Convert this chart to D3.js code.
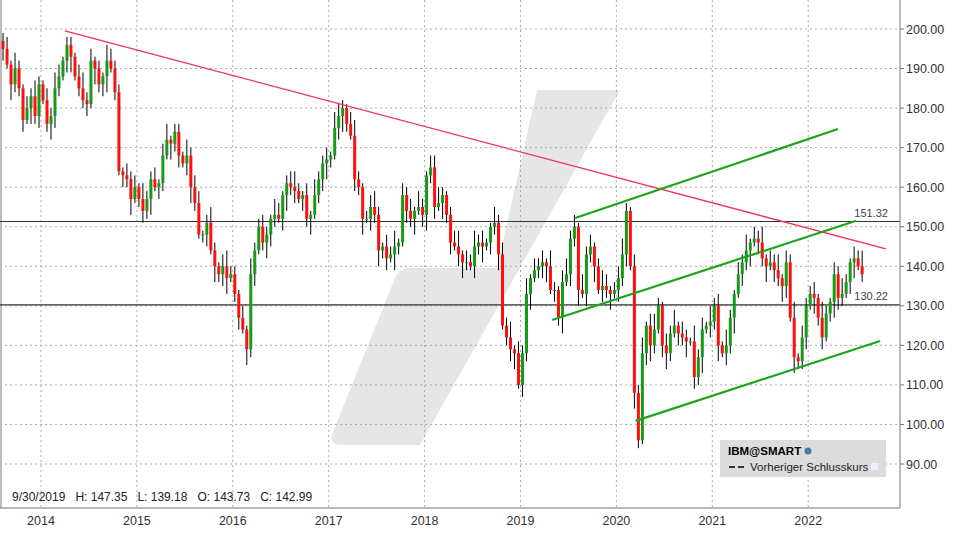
<!DOCTYPE html><html><head><meta charset="utf-8">
<script src="https://cdn.jsdelivr.net/npm/d3@7"></script>
<style>body{margin:0;background:#fff}text{font-family:"Liberation Sans",Arial,sans-serif}</style></head><body>
<svg id="c" width="953" height="536"></svg>
<script>
// half-month closes from Aug 2013
const closes=[195,191,186,190,185,177,180,183,178,186,
182,176,178,185,188,192,196,193,188,185,182,181,192,190,186,188,192,190,184,164,163,162,157,160,
157,154,157,162,160,161,168,172,171,174,168,166,168,160,156,148,148,151,144,140,138,140,137,138,
133,127,124,119,138,144,150,146,148,152,153,152,158,161,160,159,157,158,152,153,158,162,166,167,
168,175,178,180,176,173,162,160,152,152,155,153,144,145,142,143,145,146,158,154,152,154,155,153,
163,165,155,156,158,153,146,145,143,141,141,140,145,146,145,146,150,151,143,125,122,119,118,110,
118,133,137,139,140,141,140,134,134,127,136,138,147,150,134,133,143,145,140,134,135,134,133,134,
137,143,154,140,108,96,118,125,120,124,130,120,118,123,125,123,122,121,121,112,117,124,125,126,
130,120,118,120,127,133,138,141,144,146,147,146,142,140,141,139,137,135,141,127,117,116,122,130,
133,132,127,122,128,131,138,132,133,136,141,142,140,138];
const wickHi="2314213242132431221342312143221323142231341221423312421342213142232143123421314223143213421234213241323142133421234132423114232413241323142134231423124312342132413421324132142314231421324132413241324132";
const wickLo="3142231423124321341223142341213241232413214231342123142341231423124321342313241234213421324132423142132413423142313421324132412341324123413241324132413241323142134213421324132413241324132413241324";
const firstOpen=197;
const yTicks=[90,100,110,120,130,140,150,160,170,180,190,200];
const years=[2014,2015,2016,2017,2018,2019,2020,2021,2022];
const hLines=[151.32,130.22];
const redLine=[[2014.25,199.5],[2022.81,144.4]];
const greenLines=[[[2019.57,152.2],[2022.31,174.7]],[[2019.33,126.4],[2022.50,151.5]],[[2020.20,100.9],[2022.75,121.1]]];

const svg=d3.select("#c");
const x=d3.scaleLinear().domain([2014,2015]).range([41,136.9]);
const y=d3.scaleLinear().domain([90,200]).range([464,29]);
const t0=2013+7/12;
svg.append("path").attr("d","M537,90 L620,90 L420,445 L340,445 Q328,445 333,432 L395,278 Q399,268 410,268 L497,268 Z").attr("fill","#e6e6e6");
svg.append("g").selectAll("line").data(yTicks).join("line").attr("x1",0).attr("x2",900).attr("y1",d=>y(d)).attr("y2",d=>y(d)).attr("stroke","#aaa").attr("stroke-dasharray","2,3");
svg.append("g").selectAll("line").data(years).join("line").attr("x1",d=>x(d)).attr("x2",d=>x(d)).attr("y1",0).attr("y2",508).attr("stroke","#aaa").attr("stroke-dasharray","2,3");
svg.append("line").attr("x1",1).attr("x2",1).attr("y1",0).attr("y2",508).attr("stroke","#bbb").attr("stroke-width",2);
svg.append("g").selectAll("line").data(hLines).join("line").attr("x1",0).attr("x2",900).attr("y1",d=>y(d)).attr("y2",d=>y(d)).attr("stroke","#333").attr("stroke-width",1.2);
svg.append("g").selectAll("text").data(hLines).join("text").attr("x",888).attr("y",d=>y(d)-5).attr("text-anchor","end").attr("font-size",11).attr("fill","#444").text(d=>d.toFixed(2));
const data=closes.map((c,i)=>{const o=i?closes[i-1]:firstOpen;return{t:t0+i/24+1/48,o,c,h:Math.max(o,c)+ +wickHi[i%wickHi.length],l:Math.min(o,c)- +wickLo[i%wickLo.length]};});
const g=svg.append("g");
g.selectAll("line").data(data).join("line").attr("x1",d=>x(d.t)).attr("x2",d=>x(d.t)).attr("y1",d=>y(d.h)).attr("y2",d=>y(d.l)).attr("stroke","#000");
g.selectAll("rect").data(data).join("rect").attr("x",d=>x(d.t)-1.5).attr("width",3).attr("y",d=>y(Math.max(d.o,d.c))).attr("height",d=>Math.max(1,Math.abs(y(d.o)-y(d.c)))).attr("fill",d=>d.c>=d.o?"#169b16":"#ff1010");
const ln=d3.line().x(d=>x(d[0])).y(d=>y(d[1]));
svg.append("path").attr("d",ln(redLine)).attr("stroke","#f0305a").attr("stroke-width",1.3).attr("fill","none");
svg.append("g").selectAll("path").data(greenLines).join("path").attr("d",ln).attr("stroke","#1aa51a").attr("stroke-width",2.2).attr("fill","none");
svg.append("line").attr("x1",900).attr("x2",900).attr("y1",0).attr("y2",508).attr("stroke","#777");
svg.append("line").attr("x1",0).attr("x2",900).attr("y1",508).attr("y2",508).attr("stroke","#777");
svg.append("g").selectAll("text").data(yTicks).join("text").attr("x",906).attr("y",d=>y(d)+4.5).attr("font-size",12.5).attr("fill","#333").text(d=>d.toFixed(2));
svg.append("g").selectAll("line").data(yTicks).join("line").attr("x1",900).attr("x2",904).attr("y1",d=>y(d)).attr("y2",d=>y(d)).attr("stroke","#777");
svg.append("g").selectAll("text").data(years).join("text").attr("x",d=>x(d)).attr("y",525).attr("text-anchor","middle").attr("font-size",12.5).attr("fill","#333").text(d=>d);
svg.append("rect").attr("x",720).attr("y",440).attr("width",166).attr("height",37).attr("fill","#dcdcdc");
svg.append("text").attr("x",728).attr("y",455).attr("font-size",11.5).attr("font-weight","bold").text("IBM@SMART");
svg.append("circle").attr("cx",808).attr("cy",451).attr("r",3.5).attr("fill","#4a7aa8");
svg.append("line").attr("x1",729).attr("x2",747).attr("y1",467).attr("y2",467).attr("stroke","#333").attr("stroke-width",2).attr("stroke-dasharray","6,3");
svg.append("text").attr("x",750).attr("y",471).attr("font-size",11.5).attr("fill","#222").text("Vorheriger Schlusskurs");
svg.append("rect").attr("x",871).attr("y",463).attr("width",7).attr("height",7).attr("fill","#eef");
svg.append("text").attr("x",12).attr("y",501).attr("font-size",12).attr("fill","#222").attr("xml:space","preserve").text("9/30/2019   H: 147.35   L: 139.18   O: 143.73   C: 142.99");
</script></body></html>
